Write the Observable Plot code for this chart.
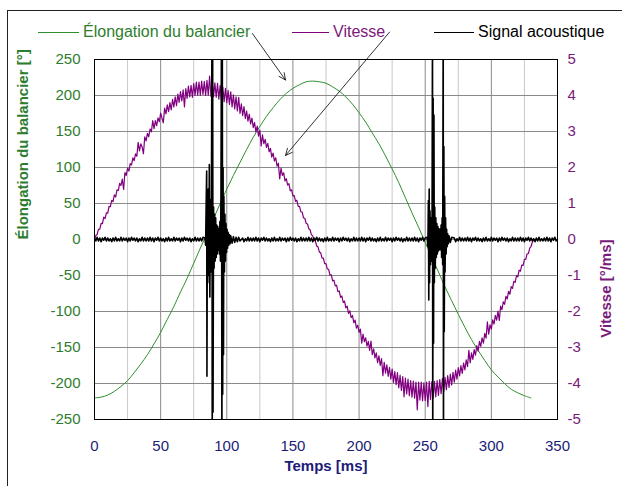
<!DOCTYPE html>
<html><head><meta charset="utf-8">
<script src="https://cdn.jsdelivr.net/npm/d3@7"></script>
<script src="https://cdn.jsdelivr.net/npm/@observablehq/plot@0.6"></script>
<style>
body{margin:0;background:#fff;font-family:Arial,"Liberation Sans",sans-serif;}
#wrap{position:relative;width:622px;height:486px;overflow:hidden;background:#fff;}
#chart{position:absolute;left:0;top:0;}
#border{position:absolute;left:7px;top:10px;width:700px;height:600px;border-left:1px solid #222;border-top:1px solid #222;pointer-events:none;}
.item{position:absolute;top:23px;height:18px;display:flex;align-items:center;white-space:nowrap;font-size:16px;}
.sw{display:inline-block;height:1px;margin-right:4px;}
</style></head>
<body><div id="wrap"><div id="chart"></div><div id="border"></div></div>
<script>
// ---- data ----
const seriesNames = ["Élongation du balancier", "Vitesse", "Signal acoustique"];
const xTicks = [0, 50, 100, 150, 200, 250, 300, 350];
const xMinorTicks = [25, 75, 125, 175, 225, 275, 325];
const yLeftTicks = [-250, -200, -150, -100, -50, 0, 50, 100, 150, 200, 250];
const yRightTicks = [-5, -4, -3, -2, -1, 0, 1, 2, 3, 4, 5];

// Élongation [°], every 5 ms from 0 to 330 ms
const elongationStep = 5;
const elongation = [-220,-219,-216,-211,-204,-196,-185,-173,-160,-145,
  -129,-111,-93,-73,-54,-33,-12,8,29,50,
  70,89,107,125,142,157,171,183,194,203,
  210,215,219,220,219,217,212,206,198,188,
  176,163,148,133,116,98,79,58,37,17,
  -4,-25,-45,-66,-85,-104,-122,-139,-154,-168,
  -181,-191,-200,-208,-213,-217,-220];

// Vitesse [°/ms], every 1 ms from 0 to 332 ms
const vitesseStep = 1;
const vitesse = [0,0.11,0.14,0.28,0.29,0.45,0.44,0.62,0.58,0.74,
0.73,0.92,0.91,1.09,1.05,1.24,1.18,1.38,1.36,1.56,
1.50,1.68,1.39,1.86,1.78,1.98,1.90,2.11,2.07,2.27,
2.19,2.38,2.31,2.70,2.46,2.66,2.57,2.38,2.85,2.74,
2.95,2.85,3.07,2.99,3.30,3.08,3.30,3.16,3.38,3.27,
3.51,3.37,3.24,3.65,3.49,3.74,3.55,3.80,3.60,3.89,
3.68,3.96,3.72,4.04,3.81,4.11,3.85,4.16,3.68,4.19,
3.92,4.26,3.96,4.28,3.95,4.33,4.00,4.37,4.01,4.37,
4.01,4.40,4.03,4.39,4.00,4.42,4.01,4.54,3.98,4.38,
3.97,4.35,3.95,4.34,3.90,4.28,3.86,4.23,3.83,4.20,
3.80,4.14,3.75,4.10,3.68,4.02,3.63,3.96,3.57,3.95,
3.50,3.77,3.44,3.69,3.36,3.57,3.29,3.48,3.21,3.37,
3.11,3.25,2.99,3.15,2.87,3.04,2.60,2.91,2.66,2.78,
2.56,2.67,2.44,2.53,2.29,2.40,2.18,2.27,2.04,2.12,
1.68,1.98,1.78,1.85,1.63,1.69,1.51,1.55,1.35,1.38,
1.21,1.22,1.06,1.09,0.92,0.92,0.77,0.76,0.60,0.59,
0.45,0.43,0.30,0.27,0.13,0.10,-0.02,-0.05,-0.18,-0.21,
-0.35,-0.37,-0.52,-0.52,-0.67,-0.67,-0.82,-0.83,-0.99,-0.98,
-1.15,-1.13,-1.29,-1.27,-1.45,-1.43,-1.61,-1.57,-1.75,-1.71,
-1.90,-1.85,-2.05,-1.98,-2.17,-2.11,-2.31,-2.24,-2.46,-2.38,
-2.58,-2.49,-2.88,-2.63,-2.84,-2.73,-2.96,-2.83,-3.08,-2.82,
-3.20,-3.04,-3.29,-3.15,-3.42,-3.23,-3.50,-3.31,-3.78,-3.41,
-3.71,-3.48,-3.80,-3.55,-3.88,-3.60,-3.97,-3.67,-4.03,-3.70,
-4.12,-3.77,-4.19,-3.81,-4.37,-3.85,-4.29,-3.88,-4.34,-3.92,
-4.38,-3.93,-4.41,-3.96,-4.73,-3.96,-4.46,-3.96,-4.48,-3.98,
-4.47,-3.96,-4.64,-3.94,-4.44,-3.95,-4.41,-3.94,-4.37,-3.92,
-4.33,-3.89,-4.28,-3.86,-4.23,-3.83,-4.17,-3.78,-4.11,-3.74,
-4.04,-3.69,-3.96,-3.63,-3.88,-3.56,-3.79,-3.50,-3.72,-3.43,
-3.62,-3.34,-3.53,-3.08,-3.43,-3.15,-3.33,-3.06,-3.21,-2.95,
-3.10,-2.83,-2.97,-2.73,-2.88,-2.61,-2.74,-2.29,-2.63,-2.37,
-2.49,-2.23,-2.35,-2.11,-2.24,-1.99,-2.25,-1.85,-1.95,-1.73,
-1.80,-1.58,-1.65,-1.44,-1.52,-1.31,-1.36,-1.16,-1.19,-1.00,
-1.04,-0.85,-0.88,-0.71,-0.72,-0.55,-0.55,-0.40,-0.39,-0.24,
-0.20,-0.07,0.00];

// Signal acoustique: background noise every 1 ms (0..350 ms)
const acousticStep = 1;
const acousticNoise = [
2,-2,3,-2,2,-3,2,-1,3,-2,2,-2,1,-3,2,-2,3,-2,1,-2,
3,-2,2,-1,2,-3,2,-2,3,-1,2,-2,2,-3,1,-2,3,-2,2,-2,
2,-2,3,-2,2,-3,2,-1,3,-2,2,-2,1,-3,2,-2,3,-2,1,-2,
3,-2,2,-1,2,-3,2,-2,3,-1,2,-2,2,-3,1,-2,3,-2,2,-2,
2,-2,3,-2,2,-3,2,-1,3,-2,2,-2,1,-3,2,-2,3,-2,1,-2,
3,-2,2,-1,2,-3,2,-2,3,-1,2,-2,2,-3,1,-2,3,-2,2,-2,
2,-2,3,-2,2,-3,2,-1,3,-2,2,-2,1,-3,2,-2,3,-2,1,-2,
3,-2,2,-1,2,-3,2,-2,3,-1,2,-2,2,-3,1,-2,3,-2,2,-2,
2,-2,3,-2,2,-3,2,-1,3,-2,2,-2,1,-3,2,-2,3,-2,1,-2,
3,-2,2,-1,2,-3,2,-2,3,-1,2,-2,2,-3,1,-2,3,-2,2,-2,
2,-2,3,-2,2,-3,2,-1,3,-2,2,-2,1,-3,2,-2,3,-2,1,-2,
3,-2,2,-1,2,-3,2,-2,3,-1,2,-2,2,-3,1,-2,3,-2,2,-2,
2,-2,3,-2,2,-3,2,-1,3,-2,2,-2,1,-3,2,-2,3,-2,1,-2,
3,-2,2,-1,2,-3,2,-2,3,-1,2,-2,2,-3,1,-2,3,-2,2,-2,
2,-2,3,-2,2,-3,2,-1,3,-2,2,-2,1,-3,2,-2,3,-2,1,-2,
3,-2,2,-1,2,-3,2,-2,3,-1,2,-2,2,-3,1,-2,3,-2,2,-2,
2,-2,3,-2,2,-3,2,-1,3,-2,2,-2,1,-3,2,-2,3,-2,1,-2,
2,-2,3,-2,2,-3,2,-1,3,-2,0];
// bursts (time ms, value)
const burst1 = [[83.5,2],[84.0,-8],[84.5,60],[84.8,95],[85.0,-190],[85.3,40],[85.6,-60],[86.0,70],[86.4,-50],[86.8,104],
[87.2,-80],[87.6,55],[88.0,-45],[88.4,60],[88.8,300],[89.0,-300],[89.3,300],[89.6,-240],[90.0,45],[90.4,-40],
[90.8,35],[91.2,-30],[91.6,30],[92.0,-25],[92.4,20],[92.8,-20],[93.2,18],[93.6,-15],[94.0,15],[94.4,-20],
[94.8,25],[95.2,-30],[95.6,60],[96.0,300],[96.3,-300],[96.6,300],[96.9,-215],[97.2,100],[97.5,-160],[97.8,60],
[98.2,-45],[98.6,35],[99.0,-30],[99.4,22],[99.8,-18],[100.2,14],[100.6,-12],[101.0,10],[101.5,-8],[102,7],
[102.5,-6],[103,5],[104,-5],[105,4],[106,-4],[107,3],[108,-3],[109,3],[110,-2]];
const burst2 = [[251.5,3],[252.0,-10],[252.4,54],[252.7,-84],[253.0,70],[253.3,-60],[253.6,40],[254.0,-35],[254.4,30],[254.8,-30],
[255.2,35],[255.5,300],[255.7,-300],[256.0,196],[256.3,-144],[256.6,173],[256.9,-60],[257.2,45],[257.6,-40],[258.0,30],
[258.4,-25],[258.8,22],[259.2,-20],[259.6,18],[260.0,-16],[260.4,15],[260.8,-14],[261.2,14],[261.6,-14],[262.0,20],
[262.4,-25],[262.8,30],[263.2,-35],[263.6,300],[263.8,-300],[264.1,129],[264.4,-128],[264.7,60],[265.0,-45],[265.4,30],
[265.8,-20],[266.2,14],[266.6,-10],[267.0,8],[267.5,-6],[268,5],[269,-4],[270,3]];

// annotation arrows (data units: ms, °)
const arrows = [
  {x1: 119.4, y1: 286, x2: 144.4, y2: 221.5},
  {x1: 223.0, y1: 288, x2: 144.4, y2: 116.7}
];

// ---- build tables ----
const green = "#2f8f2f", greenText = "#2e7d2e", purple = "#800080", purpleText = "#7a1a7a", navy = "#1c1c78";
const elongData = elongation.map((v, i) => ({t: i * elongationStep, v}));
const vitData = vitesse.map((v, i) => ({t: i * vitesseStep, v: v * 50}));
const burstRanges = [[83, 111], [251, 271]];
const acData = acousticNoise.map((v, i) => ({t: i * acousticStep, v}))
  .filter(d => !burstRanges.some(([a, b]) => d.t >= a && d.t <= b))
  .concat(burst1.map(([t, v]) => ({t, v})), burst2.map(([t, v]) => ({t, v})))
  .sort((a, b) => a.t - b.t);

const font = 'Arial, "Liberation Sans", sans-serif';
const chart = Plot.plot({
  width: 622, height: 486,
  marginLeft: 94, marginRight: 65, marginTop: 59, marginBottom: 67,
  style: {fontFamily: font, fontSize: "15px", background: "transparent", overflow: "visible"},
  x: {domain: [0, 350]},
  y: {domain: [-250, 250]},
  marks: [
    Plot.ruleX(xMinorTicks, {stroke: "#c8c8c8"}),
    Plot.ruleX(xTicks, {stroke: "#8a8a8a"}),
    Plot.ruleY(yLeftTicks, {stroke: "#8a8a8a"}),
    Plot.line(elongData, {x: "t", y: "v", stroke: green, strokeWidth: 1, curve: "catmull-rom"}),
    Plot.line(vitData, {x: "t", y: "v", stroke: purple, strokeWidth: 1.2}),
    Plot.line(acData, {x: "t", y: "v", stroke: "black", strokeWidth: 1.6, clip: true}),
    Plot.frame({stroke: "black"}),
    Plot.axisX(xTicks, {tickSize: 0, tickPadding: 21, tickFormat: d => String(d), color: navy, label: null, fontSize: 15}),
    Plot.axisY(yLeftTicks, {anchor: "left", tickSize: 0, tickPadding: 14, tickFormat: d => String(d), color: greenText, label: null, fontSize: 15}),
    Plot.axisY(yRightTicks.map(d => d * 50), {anchor: "right", tickSize: 0, tickPadding: 10, tickFormat: d => String(d / 50), color: purpleText, label: null, fontSize: 15}),
    Plot.text(["Élongation du balancier [°]"], {frameAnchor: "left", dx: -71, rotate: -90, fill: greenText, fontWeight: "bold", fontSize: 15}),
    Plot.text(["Vitesse [°/ms]"], {frameAnchor: "right", dx: 49, rotate: -90, fill: purpleText, fontWeight: "bold", fontSize: 15}),
    Plot.text(["Temps [ms]"], {frameAnchor: "bottom", dy: 51, fill: navy, fontWeight: "bold", fontSize: 15}),
    Plot.arrow(arrows, {x1: "x1", y1: "y1", x2: "x2", y2: "y2", stroke: "black", strokeWidth: 0.8, headLength: 14, headAngle: 50})
  ]
});
document.getElementById("chart").appendChild(chart);

// legend (HTML, above the plot area)
const legendColors = [[green, greenText, 38, 41], [purple, purpleText, 292, 37], ["#000", "#000", 434, 40]];
seriesNames.forEach((name, i) => {
  const [lc, tc, left, w] = legendColors[i];
  const el = document.createElement("div");
  el.className = "item";
  el.style.left = left + "px";
  el.innerHTML = `<span class="sw" style="width:${w}px;background:${lc}"></span><span style="color:${tc}">${name}</span>`;
  document.getElementById("wrap").appendChild(el);
});
</script>
</body></html>
